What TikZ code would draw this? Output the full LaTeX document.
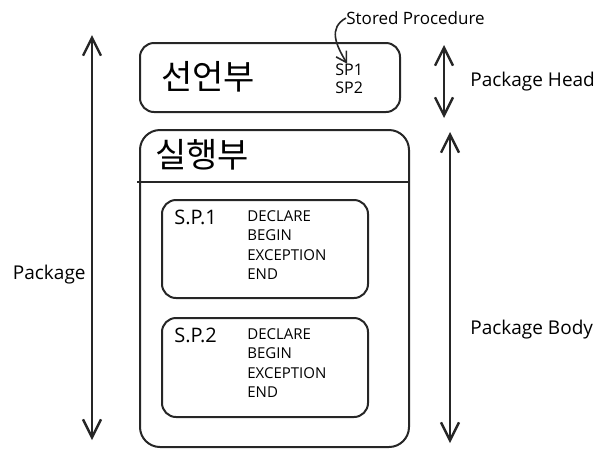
\documentclass[tikz,border=0pt]{standalone}
\usepackage{fontspec}
\setmainfont{Open Sans}
\newfontfamily\krfont{Noto Sans CJK KR}
\usetikzlibrary{arrows.meta,positioning}
\tikzset{
  box/.style={draw=black!85, line width=1pt, rounded corners=7pt,
    inner sep=0pt, outer sep=0pt},
  title/.style={font=\krfont\fontsize{17}{19}\selectfont, anchor=west, inner sep=0pt},
  note/.style={font=\fontsize{9.5}{11}\selectfont, anchor=west, inner sep=0pt},
  small/.style={font=\fontsize{8}{9}\selectfont, anchor=west, inner sep=0pt},
  kwlist/.style={font=\fontsize{7.5}{9.75}\selectfont, anchor=north west,
    inner sep=0pt, align=left},
  span/.style={{Straight Barb[length=9pt,width=9pt]}-{Straight Barb[length=9pt,width=9pt]},
    line width=1.2pt, draw=black!85},
  pointer/.style={-{Straight Barb[length=5pt,width=6pt]}, line width=0.8pt, draw=black!85}
}

\begin{document}
\begin{tikzpicture}[x=0.5pt,y=-0.5pt]
  \useasboundingbox (0,0) rectangle (616,457);

  % declaration part
  \node[box, minimum width=130pt, minimum height=34.5pt] (head) at (270,77.5) {};
  \node[title] (headtitle) at (161,77) {선언부};
  \node[small] (sp1lbl) at (335,70) {SP1};
  \node[small] (sp2lbl) at (335,88) {SP2};
  \node[small, font=\fontsize{8.5}{10}\selectfont] (stored) at (346,18) {Stored Procedure};
  \draw[pointer] (stored.west) .. controls (328,28) and (336,45) .. ([xshift=-1pt]sp1lbl.north);

  % body part
  \node[box, rounded corners=10pt, minimum width=134.5pt, minimum height=158.5pt] (body) at (274.5,288.5) {};
  \node[title] (bodytitle) at (155,155) {실행부};
  \coordinate (divl) at (137,182);
  \draw[line width=1pt, draw=black!85] (divl) -- (divl -| body.east);

  \node[box, minimum width=103pt, minimum height=49pt] (proc1) at (265,249) {};
  \node[note, font=\fontsize{10}{12}\selectfont] (proc1lbl) at (174,217) {S.P.1};
  \node[kwlist] (proc1code) at (247,210) {DECLARE\\BEGIN\\EXCEPTION\\END};

  \node[box, minimum width=103pt, minimum height=49.5pt] (proc2) at (265,367.5) {};
  \node[note, font=\fontsize{10}{12}\selectfont] (proc2lbl) at (174,335) {S.P.2};
  \node[kwlist] (proc2code) at (247,328) {DECLARE\\BEGIN\\EXCEPTION\\END};

  % extents
  \coordinate (pkgtop) at (92,35);
  \coordinate (pkgbot) at (92,440);
  \draw[span] (pkgtop) -- (pkgbot);
  \node[note, anchor=east] (pkglbl) at (86,275) {Package};

  \coordinate (headtop) at (444,45);
  \coordinate (headbot) at (444,118);
  \draw[span] (headtop) -- (headbot);
  \node[note] (headlbl) at (470,82) {Package Head};

  \coordinate (bodytop) at (450,132);
  \coordinate (bodybot) at (450,443);
  \draw[span] (bodytop) -- (bodybot);
  \node[note] (bodylbl) at (470,330) {Package Body};
\end{tikzpicture}
\end{document}
